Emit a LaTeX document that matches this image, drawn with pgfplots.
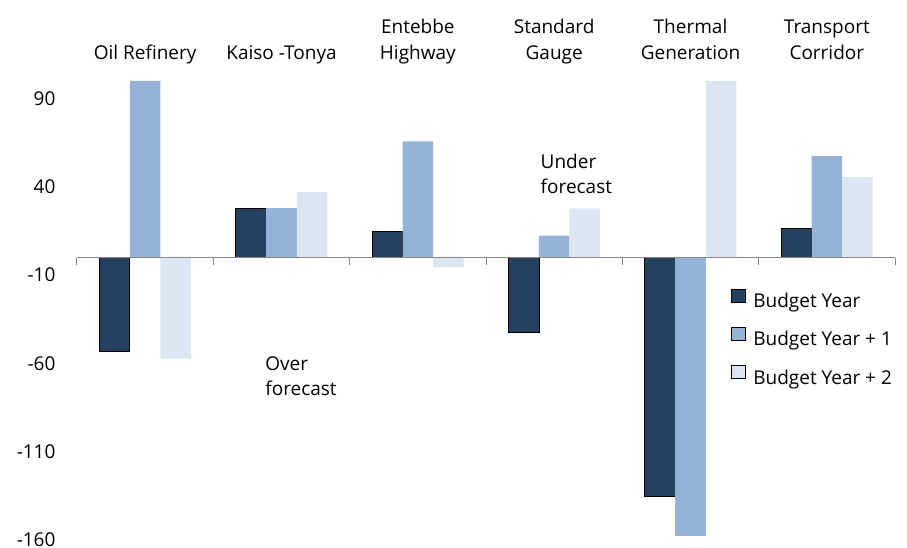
\documentclass[border=0pt]{standalone}
\usepackage{fontspec}
\setmainfont{Open Sans}
\usepackage{pgfplots}
\pgfplotsset{compat=1.18}
\definecolor{c1}{HTML}{254061}
\definecolor{c2}{HTML}{95B3D7}
\definecolor{c3}{HTML}{DCE6F2}
\definecolor{axgray}{HTML}{868686}
\newcommand\fs{\fontsize{19}{25.5}\selectfont}
\begin{document}
\begin{tikzpicture}[font=\fs]
\begin{axis}[
  name=a,
  scale only axis, width=818pt, height=459pt,
  xmin=-0.5, xmax=5.5, ymin=-160, ymax=100,
  axis line style={draw=none},
  clip=false,
  ybar=0pt, bar width=0.224,
  xtick={0,...,5},
  xticklabels={Oil Refinery, Kaiso -Tonya, Entebbe\\Highway, Standard\\Gauge, Thermal\\Generation, Transport\\Corridor},
  xticklabel pos=upper,
  xticklabel style={align=center, anchor=south, text depth=4pt, font=\fs, yshift=14pt},
  ytick={-160,-110,-60,-10,40,90},
  yticklabel style={anchor=east, font=\fs, xshift=-18pt},
  major tick length=0pt,
  /pgf/number format/assume math mode=true,
  legend style={at={(0.795,0.552)}, anchor=north west, draw=none, fill=none, font=\fs, row sep=16pt, column sep=6pt},
  legend cell align=left,
  legend image code/.code={\draw[#1] (0pt,-1pt) rectangle (14pt,12pt);},
]
\addplot[fill=c1, draw=black, line width=0.8pt] coordinates {(0,-53.4) (1,27.9) (2,15) (3,-42.4) (4,-135.5) (5,16.7)};
\addplot[fill=c2, draw=none] coordinates {(0,100) (1,28) (2,65.8) (3,12.4) (4,-157.6) (5,57.5)};
\addplot[fill=c3, draw=none] coordinates {(0,-57.3) (1,37.1) (2,-5.6) (3,27.9) (4,100) (5,45.6)};
\legend{Budget Year, Budget Year + 1, Budget Year + 2}
\draw[axgray, line width=1.2pt] (axis cs:-0.5,0) -- (axis cs:5.5,0);
\pgfplotsinvokeforeach{-0.5,0.5,1.5,2.5,3.5,4.5,5.5}{\draw[axgray, line width=1pt] (axis cs:#1,0) -- ++(0pt,-7pt);}
\node[anchor=north west, align=left, inner sep=0pt] at (axis cs:2.9,59) {Under\\forecast};
\node[anchor=north west, align=left, inner sep=0pt] at (axis cs:0.88,-56) {Over\\forecast};
\end{axis}
\pgfresetboundingbox
\path[use as bounding box] ([shift={(-77pt,-8pt)}]a.south west) rectangle ([shift={(12pt,81pt)}]a.north east);
\end{tikzpicture}
\end{document}
